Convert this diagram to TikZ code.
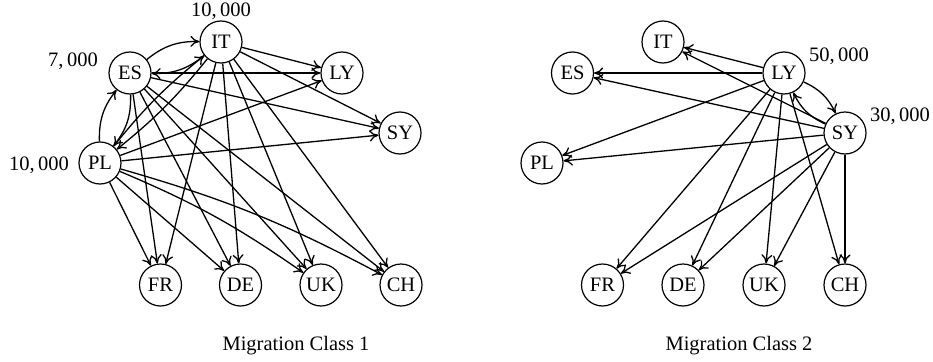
\documentclass[tikz,border=0pt]{standalone}
\usepackage{fontspec}
\setmainfont{Liberation Serif}
\usetikzlibrary{arrows.meta}
\begin{document}
\begin{tikzpicture}[x=1pt,y=-1pt,
  country/.style={circle,draw,line width=1.2pt,minimum size=42pt,inner sep=0pt,font=\fontsize{20.5}{24}\selectfont},
  lbl/.style={font=\fontsize{20.5}{24}\selectfont,anchor=base,inner sep=0pt},
  edge/.style={-{Computer Modern Rightarrow[length=9pt,width=11pt]},line width=1.3pt}]
\useasboundingbox (0,0) rectangle (933,361);
% left graph
\node[country] (aIT) at (221,42) {IT};
\node[country] (aES) at (130,73) {ES};
\node[country] (aLY) at (342,73) {LY};
\node[country] (aSY) at (400,133) {SY};
\node[country] (aPL) at (100,163) {PL};
\node[country] (aFR) at (160.5,285) {FR};
\node[country] (aDE) at (240.5,285) {DE};
\node[country] (aUK) at (321,285) {UK};
\node[country] (aCH) at (401,285) {CH};
\node[lbl] (aITn) at (221,17) {10,\,000};
\node[lbl] (aESn) at (73,66.5) {7,\,000};
\node[lbl] (aPLn) at (39,170) {10,\,000};
\node[lbl] (cap1) at (296,350) {Migration Class 1};
\draw[edge] (aES) to[bend left=20] (aIT);
\draw[edge] (aIT) to[bend left=20] (aES);
\draw[edge] (aES) to[bend left=20] (aPL);
\draw[edge] (aPL) to[bend left=20] (aES);
\draw[edge] (aIT) to[bend left=6] (aPL);
\draw[edge] (aPL) to[bend left=6] (aIT);
\foreach \s in {aES,aIT}
  \foreach \t in {aLY,aSY,aFR,aDE,aUK,aCH}
    \draw[edge] (\s) -- (\t);
\foreach \t in {aLY,aSY,aFR,aDE}
  \draw[edge] (aPL) -- (\t);
\draw[edge] (aPL) to[bend left=6] (aUK);
\draw[edge] (aPL) to[bend left=6] (aCH);
% right graph
\node[country] (bIT) at (663,42) {IT};
\node[country] (bES) at (572.5,73) {ES};
\node[country] (bLY) at (784,73) {LY};
\node[country] (bSY) at (845,133) {SY};
\node[country] (bPL) at (542,163) {PL};
\node[country] (bFR) at (602.5,285) {FR};
\node[country] (bDE) at (683,285) {DE};
\node[country] (bUK) at (764,285) {UK};
\node[country] (bCH) at (845,285) {CH};
\node[lbl] (bLYn) at (839,61) {50,\,000};
\node[lbl] (bSYn) at (900,121) {30,\,000};
\node[lbl] (cap2) at (739,350) {Migration Class 2};
\draw[edge] (bLY) to[bend left=20] (bSY);
\draw[edge] (bSY) to[bend left=20] (bLY);
\foreach \s in {bLY,bSY}
  \foreach \t in {bIT,bES,bPL,bFR,bDE,bUK,bCH}
    \draw[edge] (\s) -- (\t);
\end{tikzpicture}
\end{document}
